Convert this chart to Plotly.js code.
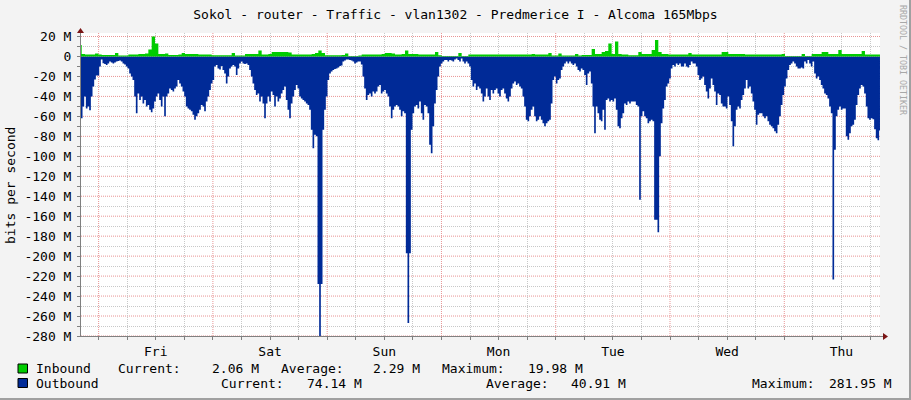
<!DOCTYPE html>
<html><head><meta charset="utf-8">
<script src="https://cdn.plot.ly/plotly-3.0.1.min.js"></script>
<style>html,body{margin:0;padding:0;background:#f3f3f3;}#chart{width:911px;height:400px;}</style>
</head><body><div id="chart"></div>
<script>
// ---------------- data ----------------
const chartTitle = 'Sokol - router - Traffic - vlan1302 - Predmerice I - Alcoma 165Mbps';
const yAxisLabel = 'bits per second';
const watermark = 'RRDTOOL / TOBI OETIKER';
const dayLabels = ['Fri', 'Sat', 'Sun', 'Mon', 'Tue', 'Wed', 'Thu'];
const dayNoonHours = [12, 36, 60, 84, 108, 132, 156];      // hours since Fri 00:00
const midnightHours = [0, 24, 48, 72, 96, 120, 144];
const yTickVals = [20, 0, -20, -40, -60, -80, -100, -120, -140, -160, -180, -200, -220, -240, -260, -280];
const yTickText = ['20 M', '0', '-20 M', '-40 M', '-60 M', '-80 M', '-100 M', '-120 M', '-140 M', '-160 M',
                   '-180 M', '-200 M', '-220 M', '-240 M', '-260 M', '-280 M'];
const startHour = -3.906;           // first sample, hours relative to Fri 00:00
const outboundStepHours = 0.35;     // 21 min
const inboundStepHours = 0.7;       // 42 min

// Outbound traffic, Mbit/s (drawn negative)
const outbound = [
  -68, -62, -50, -40, -52, -50, -54, -40, -30, -23, -19, -19, -10, -3,
  -6.8, -7.5, -8.5, -7, -5, -6, -7, -6, -5, -4.5, -4, -5, -7, -8, -10, -12, -17, -20, -23.5, -40,
  -57, -37, -43.5, -40, -47, -43.5, -50, -48.5, -53.5, -56, -52, -45, -40, -37, -43.5, -50, -40, -60,
  -40, -37, -32, -33.5, -35, -32, -30, -23.5, -27, -30, -35, -40, -50, -52, -53.5, -55, -58.5, -63.5,
  -60, -57, -53.5, -48.5, -50, -55, -45, -40, -33.5, -27, -23.5, -10, -8.5, -12, -13, -9.5, -13.5, -17,
  -27, -20, -12, -10, -8.5, -10, -18.5, -12, -7, -5, -7, -7.5, -7, -8.5, -13.5, -20, -27, -33.5, -38.5,
  -37, -45, -40, -47, -62, -47, -40, -45, -35, -38.5, -50, -40, -45, -42, -37, -33.5, -30, -43.5, -53.5,
  -62, -47, -40, -33.5, -28.5, -32, -40, -42, -43.5, -45, -47, -48.5, -53.5, -73.5, -92, -78.5, -80,
  -228, -282, -228, -73.5, -53.5, -40, -23.5, -17, -15, -13.5, -12.5, -12, -11,
  // Sun
  -9.5, -9, -5, -4, -3, -3, -3.5, -4, -5, -7, -6, -5, -5, -8, -20, -32, -43.5, -38.5, -37, -40, -35, -37,
  -35, -30, -28.5, -37, -35, -33.5, -37, -40, -50, -62, -53.5, -50, -48.5, -50, -53.5, -60, -55, -57,
  -197, -267, -197, -73.5, -57, -50, -48.5, -52, -45, -57, -63.5, -48.5, -50, -57, -88.5, -97, -70, -47,
  -33.5, -20, -10, -7, -5, -3.5, -3.5, -5, -3.5, -4, -5, -3, -2, -3.5, -5, -2, -5, -7, -5, -7, -10, -23.5,
  -30, -27, -33.5, -30, -32, -37, -45, -40, -32, -40, -43.5, -33.5, -37, -33.5, -32, -37, -40, -33.5, -32,
  -37, -42, -45, -40, -32, -27, -25, -28.5, -27, -30, -32, -40, -50, -63.5, -65, -60, -53.5, -50, -60, -65,
  -63.5, -60, -63.5, -67, -70, -67, -65, -63.5, -47, -23.5, -20, -27, -23.5, -22, -13.5, -10, -7, -5, -7,
  -5, -7, -8.5, -7, -10, -13.5, -15, -12, -13.5, -18.5, -28.5, -17, -15, -27, -50, -77, -50, -57,
  // Tue
  -63.5, -65, -53.5, -73.5, -43.5, -42, -45, -43.5, -45, -42, -53.5, -70, -72, -62, -57, -47, -48.5, -45,
  -47, -45, -45, -45, -48.5, -50, -143.5, -60, -55, -60, -62, -67, -65, -63.5, -65, -163.5, -163.5, -176,
  -100, -67, -52, -43.5, -30, -27, -22, -12, -8.5, -10, -7, -8.5, -7, -10, -10, -7, -10, -11, -8.5, -5,
  -7, -7, -10, -18.5, -23.5, -22, -20, -28.5, -35, -42, -32, -22, -28.5, -35, -48.5, -37, -38.5, -47, -50,
  -50, -52, -40, -48.5, -65, -90, -70, -53.5, -50, -52, -43.5, -38.5, -32, -23.5, -32, -30, -37, -45,
  -53.5, -68.5, -58.5, -57, -57, -60, -62, -60, -65, -68.5, -70, -72, -75, -77, -68.5, -60, -48.5, -38.5,
  -30, -22, -13.5, -8.5, -7, -5, -7, -10, -12, -12, -11, -12, -5, -7, -3.5, -7, -10, -5, -17, -22, -20,
  -23.5, -28.5, -32, -37, -38.5, -42, -50, -57, -223.5, -93.5, -60, -53.5, -50, -53.5, -52, -52, -80,
  -83.5, -77, -70, -68.5, -63.5, -48.5, -38.5, -32, -28.5, -30, -37, -50, -62, -63.5, -62, -63, -73, -82,
  -84, -74.14
];

// Inbound traffic, Mbit/s
const inbound = [
  11.5, 2.5, 2, 2, 2, 3, 2, 1.5, 1.5, 1.5, 1.5, 3.5, 1, 1, 1, 2, 2, 2, 2.5, 2.5, 3, 7, 19.98, 13,
  2.5, 2.5, 3, 1.5, 1.5, 1.5, 2, 3.5, 2.5, 2.5, 2.5, 2.5, 2, 2, 2, 2, 1.2, 1.2, 1.2, 1.2, 1.2, 1.2, 3.5, 1, 1, 1,
  2.5, 2.5, 2.5, 2.5, 6, 2, 2, 2.5, 4.5, 4.5, 4.5, 4.5, 4.5, 4, 2, 2, 2, 2, 2, 2, 2.5, 3.5, 6, 3.5, 1.2, 1.2,
  1.2, 1.2,
  1.2, 1.5, 3, 0.5, 0.5, 0.5, 1, 2, 2, 2, 2, 2, 2, 2.5, 3.5, 3.5, 3, 2, 2, 2.5, 6, 2.5, 2.5, 2.5,
  2, 2, 2, 2, 2, 4.5, 1.2, 0.5, 0.5, 0.5, 0.5, 0.5, 3.5, 0.5, 0.5, 2, 2, 2, 2, 2, 2,
  2, 2, 2, 2, 2, 2, 2, 2, 2, 2, 2, 2, 2, 2.5, 2, 2, 2, 2, 3.5, 1, 1, 3,
  1, 1, 1, 1, 2.5, 1, 1.5, 1.5, 1.5, 7.5, 2.5,
  2.5, 4.5, 5.5, 13, 2.5, 15, 2.5, 2, 2, 1.2, 1.2, 1.2, 4.5, 2.5, 2.5, 2.5, 6.5, 16.5, 4.5, 2.5, 2.5, 2, 2, 2, 2, 2,
  2, 3.5, 2, 2, 2, 2, 2, 2, 2, 2, 2, 4.5, 4.5, 2.5, 2.5, 2.5, 2.5, 2.5, 2, 2, 2, 2, 2, 2,
  2, 2, 2, 2, 2, 2.5, 0.5, 0.5, 0.5, 0.5, 0.5, 2.5, 0.5, 0.5, 2.5, 2.5, 2.5, 4.5, 4.5, 2.5, 2.5, 2.5, 6.5, 2.5, 2.5, 2.5,
  2.5, 2.5, 2.5, 5.5, 2, 2, 2, 2, 2.06
];

const seriesNames = ['Inbound', 'Outbound'];
const seriesColors = ['#00CC00', '#002A97'];
const statLabels = ['Current:', 'Average:', 'Maximum:'];
const inboundStats = ['2.06 M', '2.29 M', '19.98 M'];
const outboundStats = ['74.14 M', '40.91 M', '281.95 M'];

// ---------------- layout helpers ----------------
const FONT = 'DejaVu Sans Mono';
const L = 81, R = 880, T = 33, B = 336;
const W = R - L, H = B - T;
const PX = x => (x - L) / W;
const PY = y => (B - y) / H;
const txt = (text, x, y, anchor, extra) => Object.assign({
  text: text, xref: 'paper', yref: 'paper', x: PX(x), y: PY(y),
  xanchor: anchor, yanchor: 'middle', showarrow: false,
  font: {family: FONT, size: 13, color: '#000'}
}, extra || {});

// grey grid positions (6 h and 10 M) that are not on the red major grid
const xFine = [], xFineText = [];
for (let h = -6; h <= 168; h += 6) {
  if (midnightHours.indexOf(h) >= 0) continue;
  xFine.push(h);
  const i = dayNoonHours.indexOf(h);
  xFineText.push(i >= 0 ? dayLabels[i] : '');
}
const yFine = [];
for (let v = 10; v >= -270; v -= 20) yFine.push(v);

const XR = [-3.7, 164.1], YR = [-280, 23.5];

const traces = [
  {type: 'scatter', mode: 'lines', name: seriesNames[1], x0: startHour, dx: outboundStepHours, y: outbound,
   line: {shape: 'hvh', width: 0, color: seriesColors[1]}, fill: 'tozeroy', fillcolor: seriesColors[1],
   xaxis: 'x', yaxis: 'y', hoverinfo: 'skip'},
  {type: 'scatter', mode: 'lines', name: seriesNames[0], x0: startHour, dx: inboundStepHours, y: inbound,
   line: {shape: 'hvh', width: 0, color: seriesColors[0]}, fill: 'tozeroy', fillcolor: seriesColors[0],
   xaxis: 'x2', yaxis: 'y2', hoverinfo: 'skip'}
];

const gridRed = '#E89494', gridGrey = '#C8C8C8', axisGrey = '#808080';
const tickFont = {family: FONT, size: 13, color: '#000'};

const annotations = [
  txt(yAxisLabel, 10, 186, 'center', {textangle: -90}),
  txt(watermark, 903, 60, 'center', {textangle: 90, font: {family: FONT, size: 8.3, color: '#A8A8A8'}}),
  // legend row 1
  txt(seriesNames[0], 34, 368.5, 'left'),
  txt(statLabels[0], 116, 368.5, 'left'), txt(inboundStats[0], 261, 368.5, 'right'),
  txt(statLabels[1], 279, 368.5, 'left'), txt(inboundStats[1], 422, 368.5, 'right'),
  txt(statLabels[2], 440, 368.5, 'left'), txt(inboundStats[2], 585, 368.5, 'right'),
  // legend row 2
  txt(seriesNames[1], 34, 383.5, 'left'),
  txt(statLabels[0], 219, 383.5, 'left'), txt(outboundStats[0], 364, 383.5, 'right'),
  txt(statLabels[1], 484, 383.5, 'left'), txt(outboundStats[1], 628, 383.5, 'right'),
  txt(statLabels[2], 750, 383.5, 'left'), txt(outboundStats[2], 894, 383.5, 'right')
];

const redLine = {color: gridRed, width: 1, dash: '1px,1px'};
const shapes = [];
// red major grid: midnights and every 20 M (between the grey grid and the data)
midnightHours.forEach(h => shapes.push({type: 'line', layer: 'between', xref: 'x', yref: 'paper',
  x0: h, x1: h, y0: 0, y1: 1, line: redLine}));
yTickVals.forEach(v => shapes.push({type: 'line', layer: 'between', xref: 'paper', yref: 'y',
  x0: 0, x1: 1, y0: v, y1: v, line: redLine}));
shapes.push(
  // legend colour boxes
  {type: 'rect', xref: 'paper', yref: 'paper', x0: PX(18), x1: PX(27.5), y0: PY(364), y1: PY(373),
   fillcolor: seriesColors[0], line: {color: '#000', width: 1}},
  {type: 'rect', xref: 'paper', yref: 'paper', x0: PX(18), x1: PX(27.5), y0: PY(378.5), y1: PY(387.5),
   fillcolor: seriesColors[1], line: {color: '#000', width: 1}},
  // axis arrows
  {type: 'path', xref: 'paper', yref: 'paper', xsizemode: 'pixel', ysizemode: 'pixel', xanchor: 1, yanchor: 0,
   path: 'M 0 0 L 3 0 L 3 -1 L 0 -1 Z', fillcolor: axisGrey, line: {width: 0}},
  {type: 'path', xref: 'paper', yref: 'paper', xsizemode: 'pixel', ysizemode: 'pixel', xanchor: 1, yanchor: 0,
   path: 'M 3 3 L 8 -0.5 L 3 -4 Z', fillcolor: '#7A1515', line: {width: 0}},
  {type: 'path', xref: 'paper', yref: 'paper', xsizemode: 'pixel', ysizemode: 'pixel', xanchor: 0, yanchor: 1,
   path: 'M -4 0 L 3 0 L -0.5 5 Z', fillcolor: '#7A1515', line: {width: 0}},
  // outer frame
  {type: 'rect', xref: 'paper', yref: 'paper', xsizemode: 'pixel', xanchor: 1, x0: 29, x1: 31, y0: -0.3, y1: 1.2,
   fillcolor: '#A0A0A0', line: {width: 0}},
  {type: 'rect', xref: 'paper', yref: 'paper', ysizemode: 'pixel', yanchor: 0, y0: -62, y1: -64, x0: -0.2, x1: 1.1,
   fillcolor: '#A0A0A0', line: {width: 0}}
);

const layout = {
  width: 911, height: 400,
  margin: {l: L, r: 911 - R, t: T, b: 400 - B, pad: 0},
  paper_bgcolor: '#F3F3F3', plot_bgcolor: '#FFFFFF',
  showlegend: false,
  title: {text: chartTitle, x: 0.5, xref: 'container', xanchor: 'center', y: 1 - 14.5 / 400, yanchor: 'middle',
          font: {family: FONT, size: 13, color: '#000'}},
  // grey 6-hour grid, tick marks and day labels
  xaxis: {range: XR, tickmode: 'array', tickvals: xFine, ticktext: xFineText,
          showgrid: true, gridcolor: gridGrey, griddash: '1px,1px', gridwidth: 1,
          ticks: 'outside', ticklen: 3, tickcolor: axisGrey, showline: true, linecolor: axisGrey, linewidth: 1,
          zeroline: false, fixedrange: true, tickfont: tickFont, ticklabelstandoff: 0},
  // midnight tick marks
  xaxis2: {overlaying: 'x', anchor: 'y2', side: 'bottom', range: XR, tickmode: 'array',
           tickvals: midnightHours, showticklabels: false, showgrid: false,
           ticks: 'outside', ticklen: 3, tickcolor: axisGrey, showline: false, zeroline: false, fixedrange: true},
  // grey 10 M grid and ticks
  yaxis: {range: YR, tickmode: 'array', tickvals: yFine, showticklabels: false,
          showgrid: true, gridcolor: gridGrey, griddash: '1px,1px', gridwidth: 1,
          ticks: 'outside', ticklen: 3, tickcolor: axisGrey, showline: true, linecolor: axisGrey, linewidth: 1,
          zeroline: false, fixedrange: true},
  // 20 M ticks and labels
  yaxis2: {overlaying: 'y', anchor: 'x2', side: 'left', range: YR, tickmode: 'array', tickvals: yTickVals,
           ticktext: yTickText, showgrid: false, ticks: 'outside', ticklen: 3, tickcolor: axisGrey,
           showline: false, zeroline: false, tickfont: tickFont, ticklabelstandoff: 3, fixedrange: true},
  annotations: annotations,
  shapes: shapes
};

Plotly.newPlot('chart', traces, layout, {staticPlot: true, displayModeBar: false});
</script>
</body></html>
